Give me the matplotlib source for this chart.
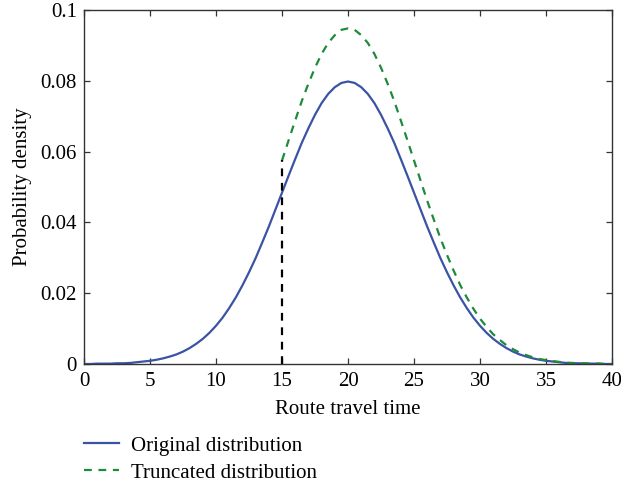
import matplotlib.pyplot as plt
import numpy as np

plt.rcParams['font.family'] = ['Liberation Serif', 'DejaVu Serif']
plt.rcParams['font.size'] = 15

# values (every 0.5 on the x axis)
x_orig = np.arange(0, 40.5, 0.5)
y_orig = [0.0000, 0.0000, 0.0001, 0.0001, 0.0001, 0.0002, 0.0002, 0.0003, 0.0005, 0.0007,
          0.0009, 0.0012, 0.0016, 0.0021, 0.0027, 0.0035, 0.0045, 0.0057, 0.0071, 0.0088,
          0.0108, 0.0131, 0.0158, 0.0188, 0.0222, 0.0259, 0.0299, 0.0343, 0.0388, 0.0436,
          0.0484, 0.0532, 0.0579, 0.0625, 0.0666, 0.0704, 0.0737, 0.0763, 0.0782, 0.0794,
          0.0798,
          0.0794, 0.0782, 0.0763, 0.0737, 0.0704, 0.0666, 0.0625, 0.0579, 0.0532, 0.0484,
          0.0436, 0.0388, 0.0343, 0.0299, 0.0259, 0.0222, 0.0188, 0.0158, 0.0131, 0.0108,
          0.0088, 0.0071, 0.0057, 0.0045, 0.0035, 0.0027, 0.0021, 0.0016, 0.0012, 0.0009,
          0.0007, 0.0005, 0.0003, 0.0002, 0.0002, 0.0001, 0.0001, 0.0001, 0.0000, 0.0000]

x_trunc = np.arange(15, 40.5, 0.5)
y_trunc = [0.0575, 0.0632, 0.0688, 0.0743, 0.0792, 0.0837, 0.0876, 0.0907, 0.0929, 0.0944,
           0.0948,
           0.0944, 0.0929, 0.0907, 0.0876, 0.0837, 0.0792, 0.0743, 0.0688, 0.0632, 0.0575,
           0.0518, 0.0461, 0.0408, 0.0355, 0.0308, 0.0264, 0.0223, 0.0188, 0.0156, 0.0128,
           0.0105, 0.0084, 0.0068, 0.0053, 0.0042, 0.0032, 0.0025, 0.0019, 0.0014, 0.0011,
           0.0008, 0.0006, 0.0004, 0.0003, 0.0002, 0.0002, 0.0001, 0.0001, 0.0000, 0.0000]

cut_x = 15
cut_top = 0.0575

fig = plt.figure(figsize=(6.21, 4.83), dpi=100)
ax = fig.add_axes([0.1353, 0.2464, 0.8502, 0.7329])

l1, = ax.plot(x_orig, y_orig, '-', color='#3a53a4', lw=1.6, label='Original distribution')
l2, = ax.plot(x_trunc, y_trunc, '--', color='#1e8a3c', lw=1.6, dashes=(3.5, 3),
              label='Truncated distribution')
ax.plot([cut_x, cut_x], [0, cut_top], '--', color='black', lw=1.6, dashes=(3.5, 3))

ax.set_xlim(0, 40)
ax.set_ylim(0, 0.1)
ax.set_xticks(np.arange(0, 41, 5))
ax.set_yticks([0, 0.02, 0.04, 0.06, 0.08, 0.1])
ax.set_yticklabels(['0', '0.02', '0.04', '0.06', '0.08', '0.1'])
ax.tick_params(direction='in', top=True, right=True, length=4, width=0.9,
               color='#333333', pad=5)
ax.tick_params(axis='x', pad=6)
for s in ax.spines.values():
    s.set_linewidth(1.0)
    s.set_color('#333333')

ax.set_xlabel('Route travel time', labelpad=6)
ax.set_ylabel('Probability density', labelpad=6)

fig.legend(handles=[l1, l2], loc='upper left', bbox_to_anchor=(0.135, 0.097),
           frameon=False, handlelength=1.7, handletextpad=0.55, labelspacing=0.35,
           borderaxespad=0, borderpad=0)

plt.savefig('out.png', dpi=100)
